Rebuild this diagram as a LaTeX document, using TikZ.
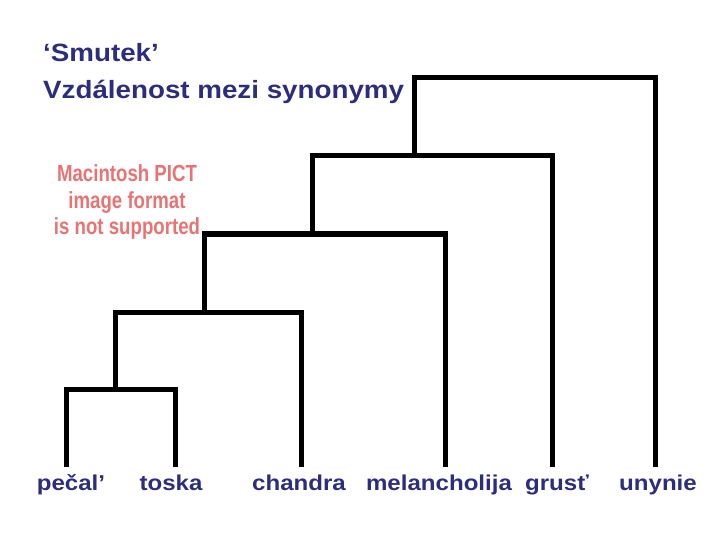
\documentclass[tikz,border=0pt]{standalone}
\usepackage{fontspec}
\setmainfont{Liberation Sans}
\newfontfamily\titlefont[FakeStretch=1.11]{Liberation Sans}
\newfontfamily\leaffont[FakeStretch=1.12]{Liberation Sans}
\newfontfamily\pictfont[FakeStretch=0.80]{Liberation Sans}
\usepackage{xcolor}
\definecolor{smnavy}{RGB}{45,45,125}
\definecolor{pictred}{RGB}{232,115,115}
\usepackage{tikz}
\usetikzlibrary{positioning, calc}

\begin{document}
\begin{tikzpicture}[
  x=1pt, y=-1pt,
  branch/.style={line width=5pt, line join=miter},
  heading/.style={font=\titlefont\bfseries\fontsize{25}{30}\selectfont,
                  text=smnavy, anchor=base west, inner sep=0pt},
  leaf/.style={font=\leaffont\bfseries\fontsize{21.5}{25}\selectfont,
               text=smnavy, anchor=base, inner sep=0pt},
  pict/.style={font=\pictfont\bfseries\fontsize{23.3}{26}\selectfont,
               text=pictred, anchor=base, inner sep=0pt}
]
\useasboundingbox (0,0) rectangle (720,540);

% --- Title ---
\node[heading] (title1) at (43,62) {‘Smutek’};
\node[heading] (title2) at (43,99) {Vzdálenost mezi synonymy};

% --- Missing picture placeholder ---
\node[pict] (pict1) at (127,182) {Macintosh PICT};
\node[pict] (pict2) at (127,208) {image format};
\node[pict] (pict3) at (127,235) {is not supported};

% --- Leaves ---
\node[leaf] (pecal)  at (71,490)  {pečal’};
\node[leaf] (toska)  at (171,490) {toska};
\node[leaf] (chandra) at (299,490) {chandra};
\node[leaf] (melan)  at (439,490) {melancholija};
\node[leaf] (grust)  at (557,490) {grusť};
\node[leaf] (unynie) at (658,490) {unynie};

% leaf tops
\coordinate (t1) at (66.5,467);
\coordinate (t2) at (175,467);
\coordinate (t3) at (301,467);
\coordinate (t4) at (445,467);
\coordinate (t5) at (552,467);
\coordinate (t6) at (655,467);

% merge points
\coordinate (m1) at (115,389.5);
\coordinate (m2) at (204.5,312);
\coordinate (m3) at (312,234);
\coordinate (m4) at (414,156);
\coordinate (m5) at (414,77.5);

% --- Dendrogram ---
\draw[branch] (t1) |- (m1) -| (t2);
\draw[branch] (m1) |- (m2) -| (t3);
\draw[branch] (m2) |- (m3) -| (t4);
\draw[branch] (m3) |- (m4) -| (t5);
\draw[branch] (m4) -- (m5) -| (t6);

\end{tikzpicture}
\end{document}
